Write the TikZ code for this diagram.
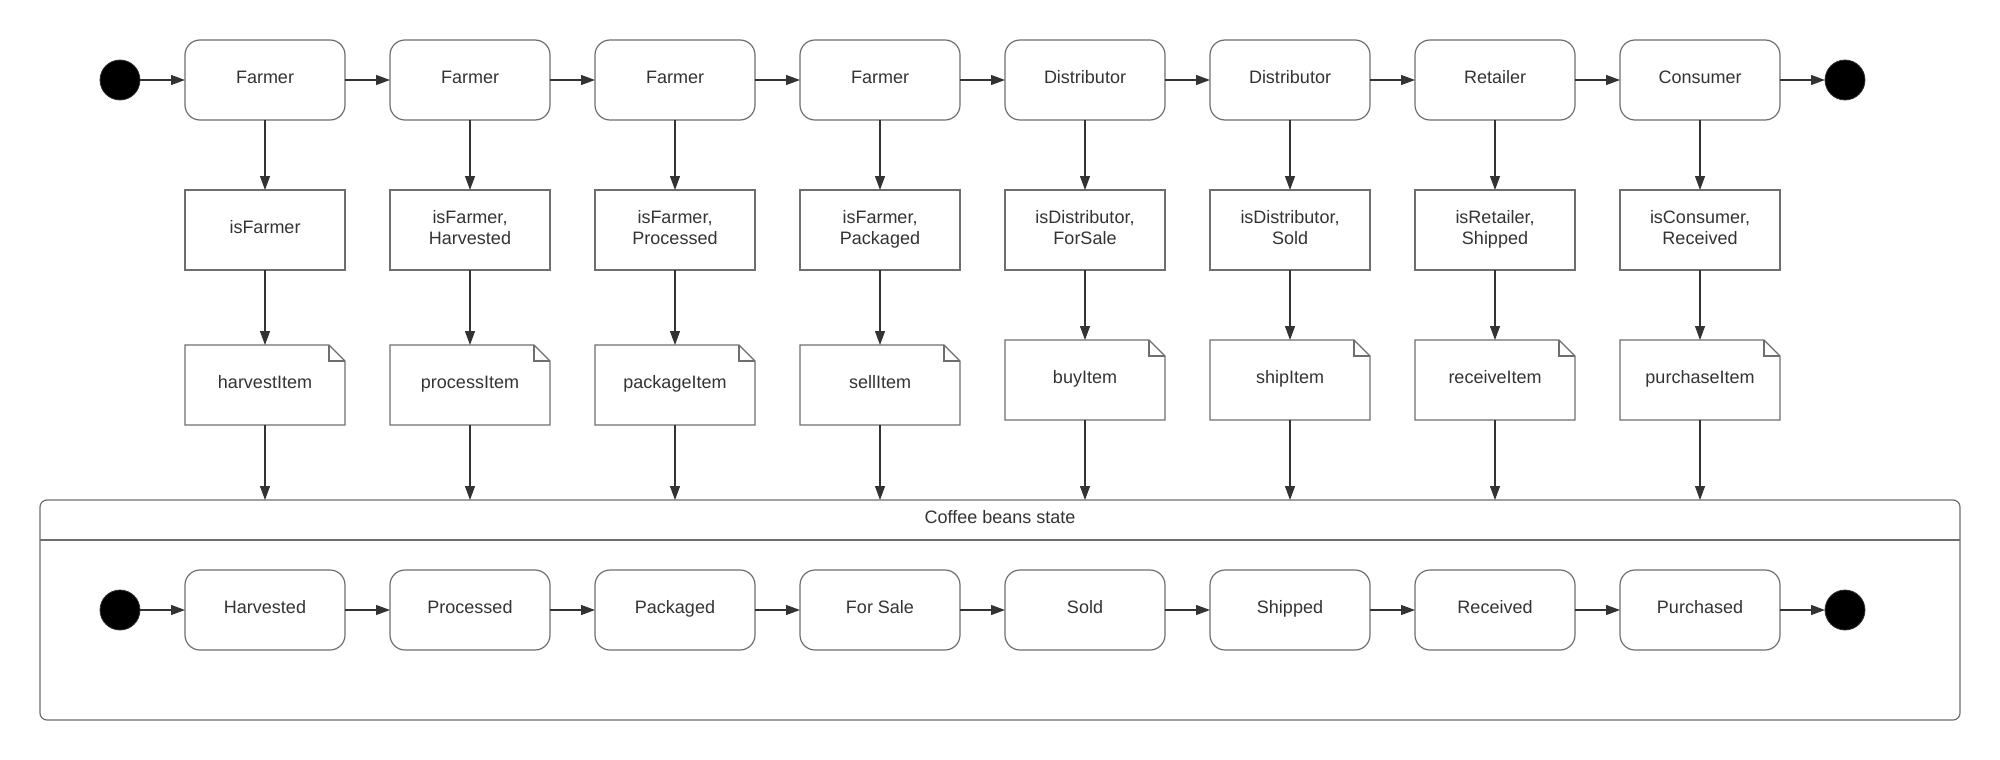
\documentclass[tikz,border=0pt]{standalone}
\usepackage{fontspec}
\setmainfont{Liberation Sans}
\usetikzlibrary{arrows.meta,calc}
\definecolor{ink}{HTML}{333333}
\definecolor{edge}{HTML}{6E6E6E}
% line strut: fixed ascent and descent so every label sits on the same baseline
\newcommand\ls{\rule[-6pt]{0pt}{19pt}}
\begin{document}
\begin{tikzpicture}[x=1pt,y=-1pt,
  every node/.style={font=\fontsize{18pt}{21pt}\selectfont, text=ink},
  label text/.style={execute at begin node=\ls},
  state/.style={label text, draw=edge, line width=1.2pt, rounded corners=15pt, minimum width=160pt, minimum height=80pt, inner sep=0pt, outer sep=0pt, align=center},
  guard/.style={label text, draw=edge, line width=1.2pt, minimum width=160pt, minimum height=80pt, inner sep=0pt, outer sep=0pt, align=center},
  note/.style={label text, minimum width=160pt, minimum height=80pt, inner sep=0pt, outer sep=0pt},
  noteline/.style={draw=edge, line width=1.2pt},
  dot/.style={circle, fill=black, draw=ink, line width=0.8pt, minimum size=40pt, inner sep=0pt, outer sep=0pt},
  flow/.style={draw=ink, line width=1.2pt, -{Triangle[length=14pt,width=10pt]}},
]
\useasboundingbox (0,0) rectangle (2000,760);

% upper lane: actors
\node[dot] (start) at (120,80) {};
\foreach [count=\i] \who in {Farmer,Farmer,Farmer,Farmer,Distributor,Distributor,Retailer,Consumer}
  \node[state] (top\i) at ({265+205*(\i-1)},80) {\who};
\node[dot] (stop) at (1845,80) {};

% guards
\foreach [count=\i] \cond in {{isFarmer},{isFarmer,\\\ls Harvested},{isFarmer,\\\ls Processed},{isFarmer,\\\ls Packaged},{isDistributor,\\\ls ForSale},{isDistributor,\\\ls Sold},{isRetailer,\\\ls Shipped},{isConsumer,\\\ls Received}}
  \node[guard] (guard\i) at ({265+205*(\i-1)},230) {\cond};

% function notes
\foreach [count=\i] \fn in {harvestItem,processItem,packageItem,sellItem,buyItem,shipItem,receiveItem,purchaseItem} {
  \pgfmathsetmacro\ny{\i<5 ? 385 : 380}
  \node[note] (note\i) at ({265+205*(\i-1)},\ny) {\fn};
  \draw[noteline] (note\i.north west) -- ($(note\i.north east)+(-16,0)$) -- ($(note\i.north east)+(0,16)$) -- (note\i.south east) -- (note\i.south west) -- cycle;
  \draw[noteline] ($(note\i.north east)+(-16,0)$) |- ($(note\i.north east)+(0,16)$);
}

% composite state
\node[draw=edge, line width=1.2pt, rounded corners=7pt, minimum width=1920pt, minimum height=220pt, inner sep=0pt, outer sep=0pt] (box) at (1000,610) {};
\draw[noteline] ($(box.north west)+(0,40)$) -- ($(box.north east)+(0,40)$);
\node[label text] (title) at (1000,520) {Coffee beans state};

\node[dot] (bstart) at (120,610) {};
\foreach [count=\i] \st in {Harvested,Processed,Packaged,For Sale,Sold,Shipped,Received,Purchased}
  \node[state] (bot\i) at ({265+205*(\i-1)},610) {\st};
\node[dot] (bstop) at (1845,610) {};

% transitions
\draw[flow] (start) -- (top1);
\draw[flow] (top8) -- (stop);
\draw[flow] (bstart) -- (bot1);
\draw[flow] (bot8) -- (bstop);
\foreach \i [evaluate=\i as \j using int(\i+1)] in {1,...,7} {
  \draw[flow] (top\i) -- (top\j);
  \draw[flow] (bot\i) -- (bot\j);
}
\foreach \i in {1,...,8} {
  \draw[flow] (top\i) -- (guard\i);
  \draw[flow] (guard\i) -- (note\i);
  \draw[flow] (note\i.south) -- (note\i.south |- box.north);
}
\end{tikzpicture}
\end{document}
